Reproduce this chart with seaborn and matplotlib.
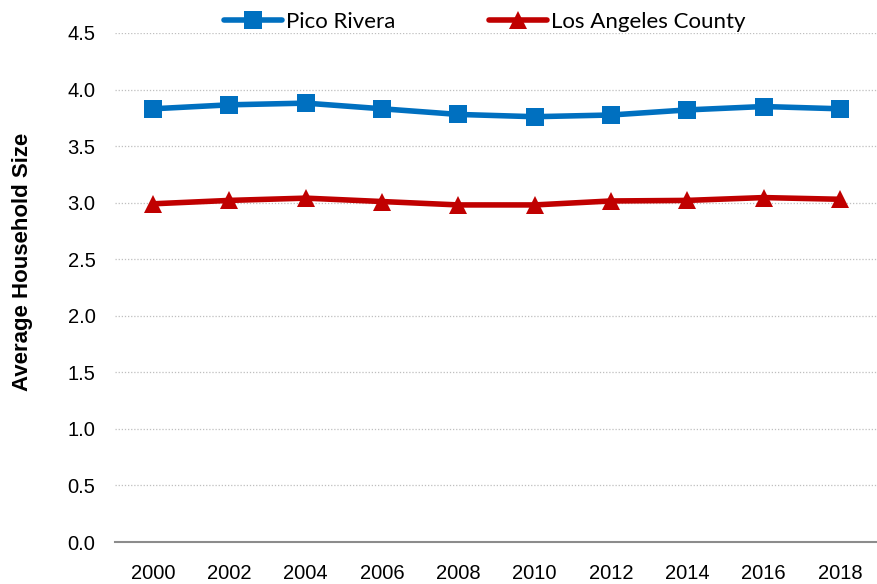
import pandas as pd
import numpy as np
import matplotlib.pyplot as plt
import seaborn as sns

# chart values
years = ['2000', '2002', '2004', '2006', '2008', '2010', '2012', '2014', '2016', '2018']
pico_rivera = [3.83, 3.865, 3.88, 3.83, 3.78, 3.76, 3.775, 3.82, 3.85, 3.83]
la_county = [2.99, 3.02, 3.04, 3.01, 2.98, 2.98, 3.015, 3.02, 3.045, 3.03]
series_names = ['Pico Rivera', 'Los Angeles County']
y_ticks = [0.0, 0.5, 1.0, 1.5, 2.0, 2.5, 3.0, 3.5, 4.0, 4.5]

df = pd.DataFrame({
    'Year': years * 2,
    'Size': pico_rivera + la_county,
    'Area': [series_names[0]] * len(years) + [series_names[1]] * len(years),
})

sns.set_theme(style="white")
plt.rcParams['font.family'] = ['Liberation Sans', 'DejaVu Sans']

fig = plt.figure(figsize=(8.78, 5.84), dpi=100)
ax = fig.add_axes([115 / 878, 42 / 584, 763 / 878, (542 - 33) / 584])

palette = {series_names[0]: '#0070C0', series_names[1]: '#C00000'}
markers = {series_names[0]: 's', series_names[1]: '^'}
sns.lineplot(data=df, x='Year', y='Size', hue='Area', style='Area',
             palette=palette, markers=markers, dashes=False, sort=False,
             linewidth=4, markersize=13, markeredgewidth=0, ax=ax)

ax.set_xlim(-0.5, len(years) - 0.5)
ax.set_ylim(0, 4.5)
ax.set_yticks(y_ticks)
ax.set_yticklabels([f'{v:.1f}' for v in y_ticks])
ax.tick_params(axis='both', labelsize=14.5, length=0, colors='black')
ax.tick_params(axis='x', pad=16)
ax.tick_params(axis='y', pad=14)

for v in y_ticks[1:]:
    ax.axhline(v, color='#BFBFBF', linestyle=(0, (1, 1.5)), linewidth=0.9, zorder=0)

for s in ['top', 'right', 'left']:
    ax.spines[s].set_visible(False)
ax.spines['bottom'].set_color('#8C8C8C')
ax.spines['bottom'].set_linewidth(1.5)

ax.set_xlabel('')
ax.set_ylabel('Average Household Size', fontsize=16, fontweight='bold', color='black')
ax.yaxis.set_label_coords(-0.107, 0.55)

handles, labels = ax.get_legend_handles_labels()
ax.legend(handles, labels, loc='lower center', bbox_to_anchor=(0.485, 0.985),
          ncol=2, frameon=False, prop={'family': 'Lato', 'size': 16}, labelcolor='black',
          handlelength=2.6, columnspacing=4.2, handletextpad=0.2, borderaxespad=0)

fig.savefig('out.png', dpi=100)
